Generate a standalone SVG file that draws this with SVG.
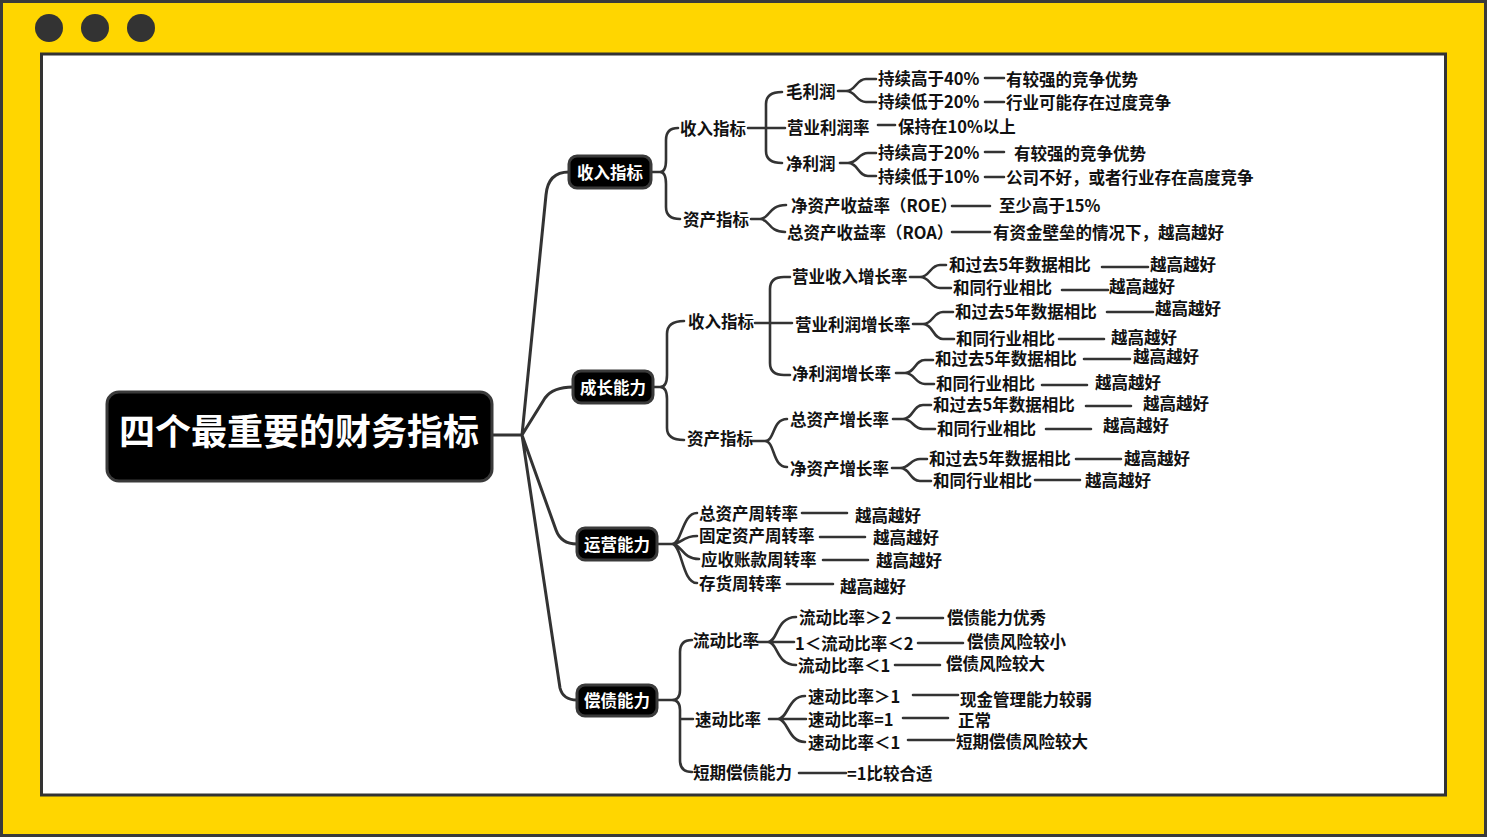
<svg xmlns="http://www.w3.org/2000/svg" width="1489" height="839" viewBox="0 0 1489 839">
<style>
.t{font-family:"Noto Sans CJK SC","Noto Sans",sans-serif;font-weight:700;font-size:16.5px;fill:#111;dominant-baseline:central}
.w{fill:#fff}
.c{fill:none;stroke:#333;stroke-width:2.6;stroke-linecap:round;stroke-linejoin:round}
.m{fill:none;stroke:#333;stroke-width:3;stroke-linecap:round;stroke-linejoin:round}
.box{fill:#000;stroke:#3a3a3a;stroke-width:3}
</style>
<rect x="0" y="0" width="1489" height="839" fill="#fff"/>
<rect x="1.5" y="1.5" width="1484" height="834" fill="#FFD600" stroke="#3a3a3a" stroke-width="3"/>
<rect x="41.5" y="54" width="1404" height="741" fill="#fff" stroke="#333" stroke-width="3"/>
<circle cx="49" cy="28" r="14" fill="#333"/>
<circle cx="95" cy="28" r="14" fill="#333"/>
<circle cx="141" cy="28" r="14" fill="#333"/>

<g id="connectors">
<path class="m" d="M492,435 H522 M522,435 L546,195 Q548,172 569,172 M522,435 L545,398 Q553,387 573,387 M522,435 L556,530 Q561,544 577,544 M522,435 L560,688 Q563,700 577,700"/>
<!-- 收入 -->
<path class="c" d="M651,172 H660 Q666,172 666,160 V140 Q666,128 678,128 M660,172 Q666,172 666,184 V207 Q666,219 680,219"/>
<path class="c" d="M748,128 H785 M766,128 V104 Q766,92 782,92 M766,128 V151 Q766,163 782,163"/>
<path class="c" d="M751,219 H760 C770,219 768,205 786,205 M760,219 C770,219 768,232 785,232"/>
<path class="c" d="M838,91 H846 C856,91 856,79 866,79 H876 M846,91 C856,91 856,102 866,102 H876"/>
<path class="c" d="M878,125 H895"/>
<path class="c" d="M840,163 H848 C858,163 858,153 868,153 H876 M848,163 C858,163 858,176 868,176 H876"/>
<path class="c" d="M985,78 H1004 M985,102 H1004 M985,152 H1004 M985,177 H1004 M952,206 H990 M952,232 H990"/>
<!-- 成长 -->
<path class="c" d="M653,387 H660 Q667,387 667,375 V334 Q667,321 684,321 M660,387 Q667,387 667,399 V428 Q667,440 684,440"/>
<path class="c" d="M755,323 H792 M770,323 V289 Q770,277 784,277 H790 M770,323 V363 Q770,375 784,375 H790"/>
<path class="c" d="M752,441 H765 C775,441 772,419 787,419 M765,441 C775,441 772,467 787,467"/>
<path class="c" d="M910,277 H920 C930,277 930,265 940,265 H946 M920,277 C930,277 930,288 940,288 H951"/>
<path class="c" d="M913,324 H923 C933,324 933,312 943,312 H953 M923,324 C933,324 933,339 943,339 H954"/>
<path class="c" d="M896,373 H905 C915,373 915,360 925,360 H933 M905,373 C915,373 915,384 925,384 H934"/>
<path class="c" d="M893,419 H903 C913,419 913,405 923,405 H931 M903,419 C913,419 913,429 923,429 H935"/>
<path class="c" d="M892,468 H900 C910,468 910,459 920,459 H927 M900,468 C910,468 910,481 920,481 H931"/>
<path class="c" d="M1102,267 H1148 M1062,290 H1108 M1107,312 H1153 M1059,339 H1104 M1084,359 H1130 M1042,385 H1087 M1086,406 H1131 M1046,429 H1091 M1076,459 H1121 M1035,480 H1080"/>
<!-- 运营 -->
<path class="c" d="M657,544 H672 M672,544 C682,544 682,513 697,513 M672,544 C682,544 682,536 697,536 M672,544 C682,544 682,559 699,559 M672,544 C682,544 682,583 697,583"/>
<path class="c" d="M802,513 H847 M820,537 H865 M823,560 H868 M787,584 H833"/>
<!-- 偿债 -->
<path class="c" d="M657,700 H672 Q680,700 680,690 V652 Q680,640 692,640 M672,700 Q680,700 680,710 V760 Q680,772 692,772 M680,719 H693"/>
<path class="c" d="M758,642 H794 M768,642 C778,642 776,617 796,617 M768,642 C778,642 776,665 796,665"/>
<path class="c" d="M769,719 H806 M778,719 C788,719 788,696 805,696 M778,719 C788,719 788,742 805,742"/>
<path class="c" d="M897,618 H943 M918,643 H963 M895,665 H940 M913,695 H958 M903,718 H948 M908,740 H954 M799,773 H846"/>
</g>

<g id="root"><rect class="box" x="107" y="392" width="385" height="89" rx="12"/><text class="t w" x="299" y="429" text-anchor="middle" style="font-size:36px">四个最重要的财务指标</text></g>

<g id="l1-income"><rect class="box" x="569" y="156" width="82" height="32" rx="8"/><text class="t w" x="610" y="172" text-anchor="middle">收入指标</text></g>
<g id="l1-growth"><rect class="box" x="573" y="371" width="80" height="32" rx="8"/><text class="t w" x="613" y="387" text-anchor="middle">成长能力</text></g>
<g id="l1-ops"><rect class="box" x="577" y="528" width="80" height="32" rx="8"/><text class="t w" x="617" y="544" text-anchor="middle">运营能力</text></g>
<g id="l1-debt"><rect class="box" x="577" y="685" width="80" height="31" rx="8"/><text class="t w" x="617" y="700" text-anchor="middle">偿债能力</text></g>

<g id="inc-rev"><text class="t" x="680" y="128">收入指标</text></g>
<g id="inc-asset"><text class="t" x="683" y="219">资产指标</text></g>
<g id="gross"><text class="t" x="786" y="91">毛利润</text></g>
<g id="opmargin"><text class="t" x="787" y="127">营业利润率</text></g>
<g id="netprofit"><text class="t" x="786" y="163">净利润</text></g>
<g id="g40"><text class="t" x="878" y="78">持续高于40%</text></g>
<g id="g20"><text class="t" x="878" y="101">持续低于20%</text></g>
<g id="g40r"><text class="t" x="1006" y="79">有较强的竞争优势</text></g>
<g id="g20r"><text class="t" x="1006" y="102">行业可能存在过度竞争</text></g>
<g id="op10"><text class="t" x="898" y="126">保持在10%以上</text></g>
<g id="n20"><text class="t" x="878" y="152">持续高于20%</text></g>
<g id="n20r"><text class="t" x="1014" y="153">有较强的竞争优势</text></g>
<g id="n10"><text class="t" x="878" y="176">持续低于10%</text></g>
<g id="n10r"><text class="t" x="1006" y="177">公司不好，或者行业存在高度竞争</text></g>
<g id="roe"><text class="t" x="791" y="205">净资产收益率（ROE）</text></g>
<g id="roer"><text class="t" x="999" y="205">至少高于15%</text></g>
<g id="roa"><text class="t" x="787" y="232">总资产收益率（ROA）</text></g>
<g id="roar"><text class="t" x="993" y="232">有资金壁垒的情况下，越高越好</text></g>

<g id="gr-rev"><text class="t" x="688" y="321">收入指标</text></g>
<g id="gr-asset"><text class="t" x="687" y="438">资产指标</text></g>
<g id="gr1"><text class="t" x="792" y="276">营业收入增长率</text></g>
<g id="gr2"><text class="t" x="795" y="324">营业利润增长率</text></g>
<g id="gr3"><text class="t" x="792" y="373">净利润增长率</text></g>
<g id="gr4"><text class="t" x="790" y="419">总资产增长率</text></g>
<g id="gr5"><text class="t" x="790" y="468">净资产增长率</text></g>
<g id="gr1a"><text class="t" x="949" y="264">和过去5年数据相比</text><text class="t" x="1150" y="264">越高越好</text></g>
<g id="gr1b"><text class="t" x="953" y="287">和同行业相比</text><text class="t" x="1109" y="286">越高越好</text></g>
<g id="gr2a"><text class="t" x="955" y="311">和过去5年数据相比</text><text class="t" x="1155" y="308">越高越好</text></g>
<g id="gr2b"><text class="t" x="956" y="338">和同行业相比</text><text class="t" x="1111" y="337">越高越好</text></g>
<g id="gr3a"><text class="t" x="935" y="358">和过去5年数据相比</text><text class="t" x="1133" y="356">越高越好</text></g>
<g id="gr3b"><text class="t" x="936" y="383">和同行业相比</text><text class="t" x="1095" y="382">越高越好</text></g>
<g id="gr4a"><text class="t" x="933" y="404">和过去5年数据相比</text><text class="t" x="1143" y="403">越高越好</text></g>
<g id="gr4b"><text class="t" x="937" y="428">和同行业相比</text><text class="t" x="1103" y="425">越高越好</text></g>
<g id="gr5a"><text class="t" x="929" y="458">和过去5年数据相比</text><text class="t" x="1124" y="458">越高越好</text></g>
<g id="gr5b"><text class="t" x="933" y="480">和同行业相比</text><text class="t" x="1085" y="480">越高越好</text></g>

<g id="op1"><text class="t" x="699" y="513">总资产周转率</text><text class="t" x="855" y="515">越高越好</text></g>
<g id="op2"><text class="t" x="699" y="535">固定资产周转率</text><text class="t" x="873" y="537">越高越好</text></g>
<g id="op3"><text class="t" x="701" y="559">应收账款周转率</text><text class="t" x="876" y="560">越高越好</text></g>
<g id="op4"><text class="t" x="699" y="583">存货周转率</text><text class="t" x="840" y="586">越高越好</text></g>

<g id="cur"><text class="t" x="693" y="640">流动比率</text></g>
<g id="quick"><text class="t" x="695" y="719">速动比率</text></g>
<g id="short"><text class="t" x="693" y="772">短期偿债能力</text></g>
<g id="cur1"><text class="t" x="799" y="617">流动比率＞2</text><text class="t" x="947" y="617">偿债能力优秀</text></g>
<g id="cur2"><text class="t" x="795" y="643">1＜流动比率＜2</text><text class="t" x="967" y="641">偿债风险较小</text></g>
<g id="cur3"><text class="t" x="798" y="665">流动比率＜1</text><text class="t" x="946" y="663">偿债风险较大</text></g>
<g id="q1"><text class="t" x="808" y="696">速动比率＞1</text><text class="t" x="960" y="699">现金管理能力较弱</text></g>
<g id="q2"><text class="t" x="808" y="719">速动比率=1</text><text class="t" x="958" y="720">正常</text></g>
<g id="q3"><text class="t" x="808" y="742">速动比率＜1</text><text class="t" x="956" y="741">短期偿债风险较大</text></g>
<g id="short1"><text class="t" x="847" y="773">=1比较合适</text></g>
</svg>
